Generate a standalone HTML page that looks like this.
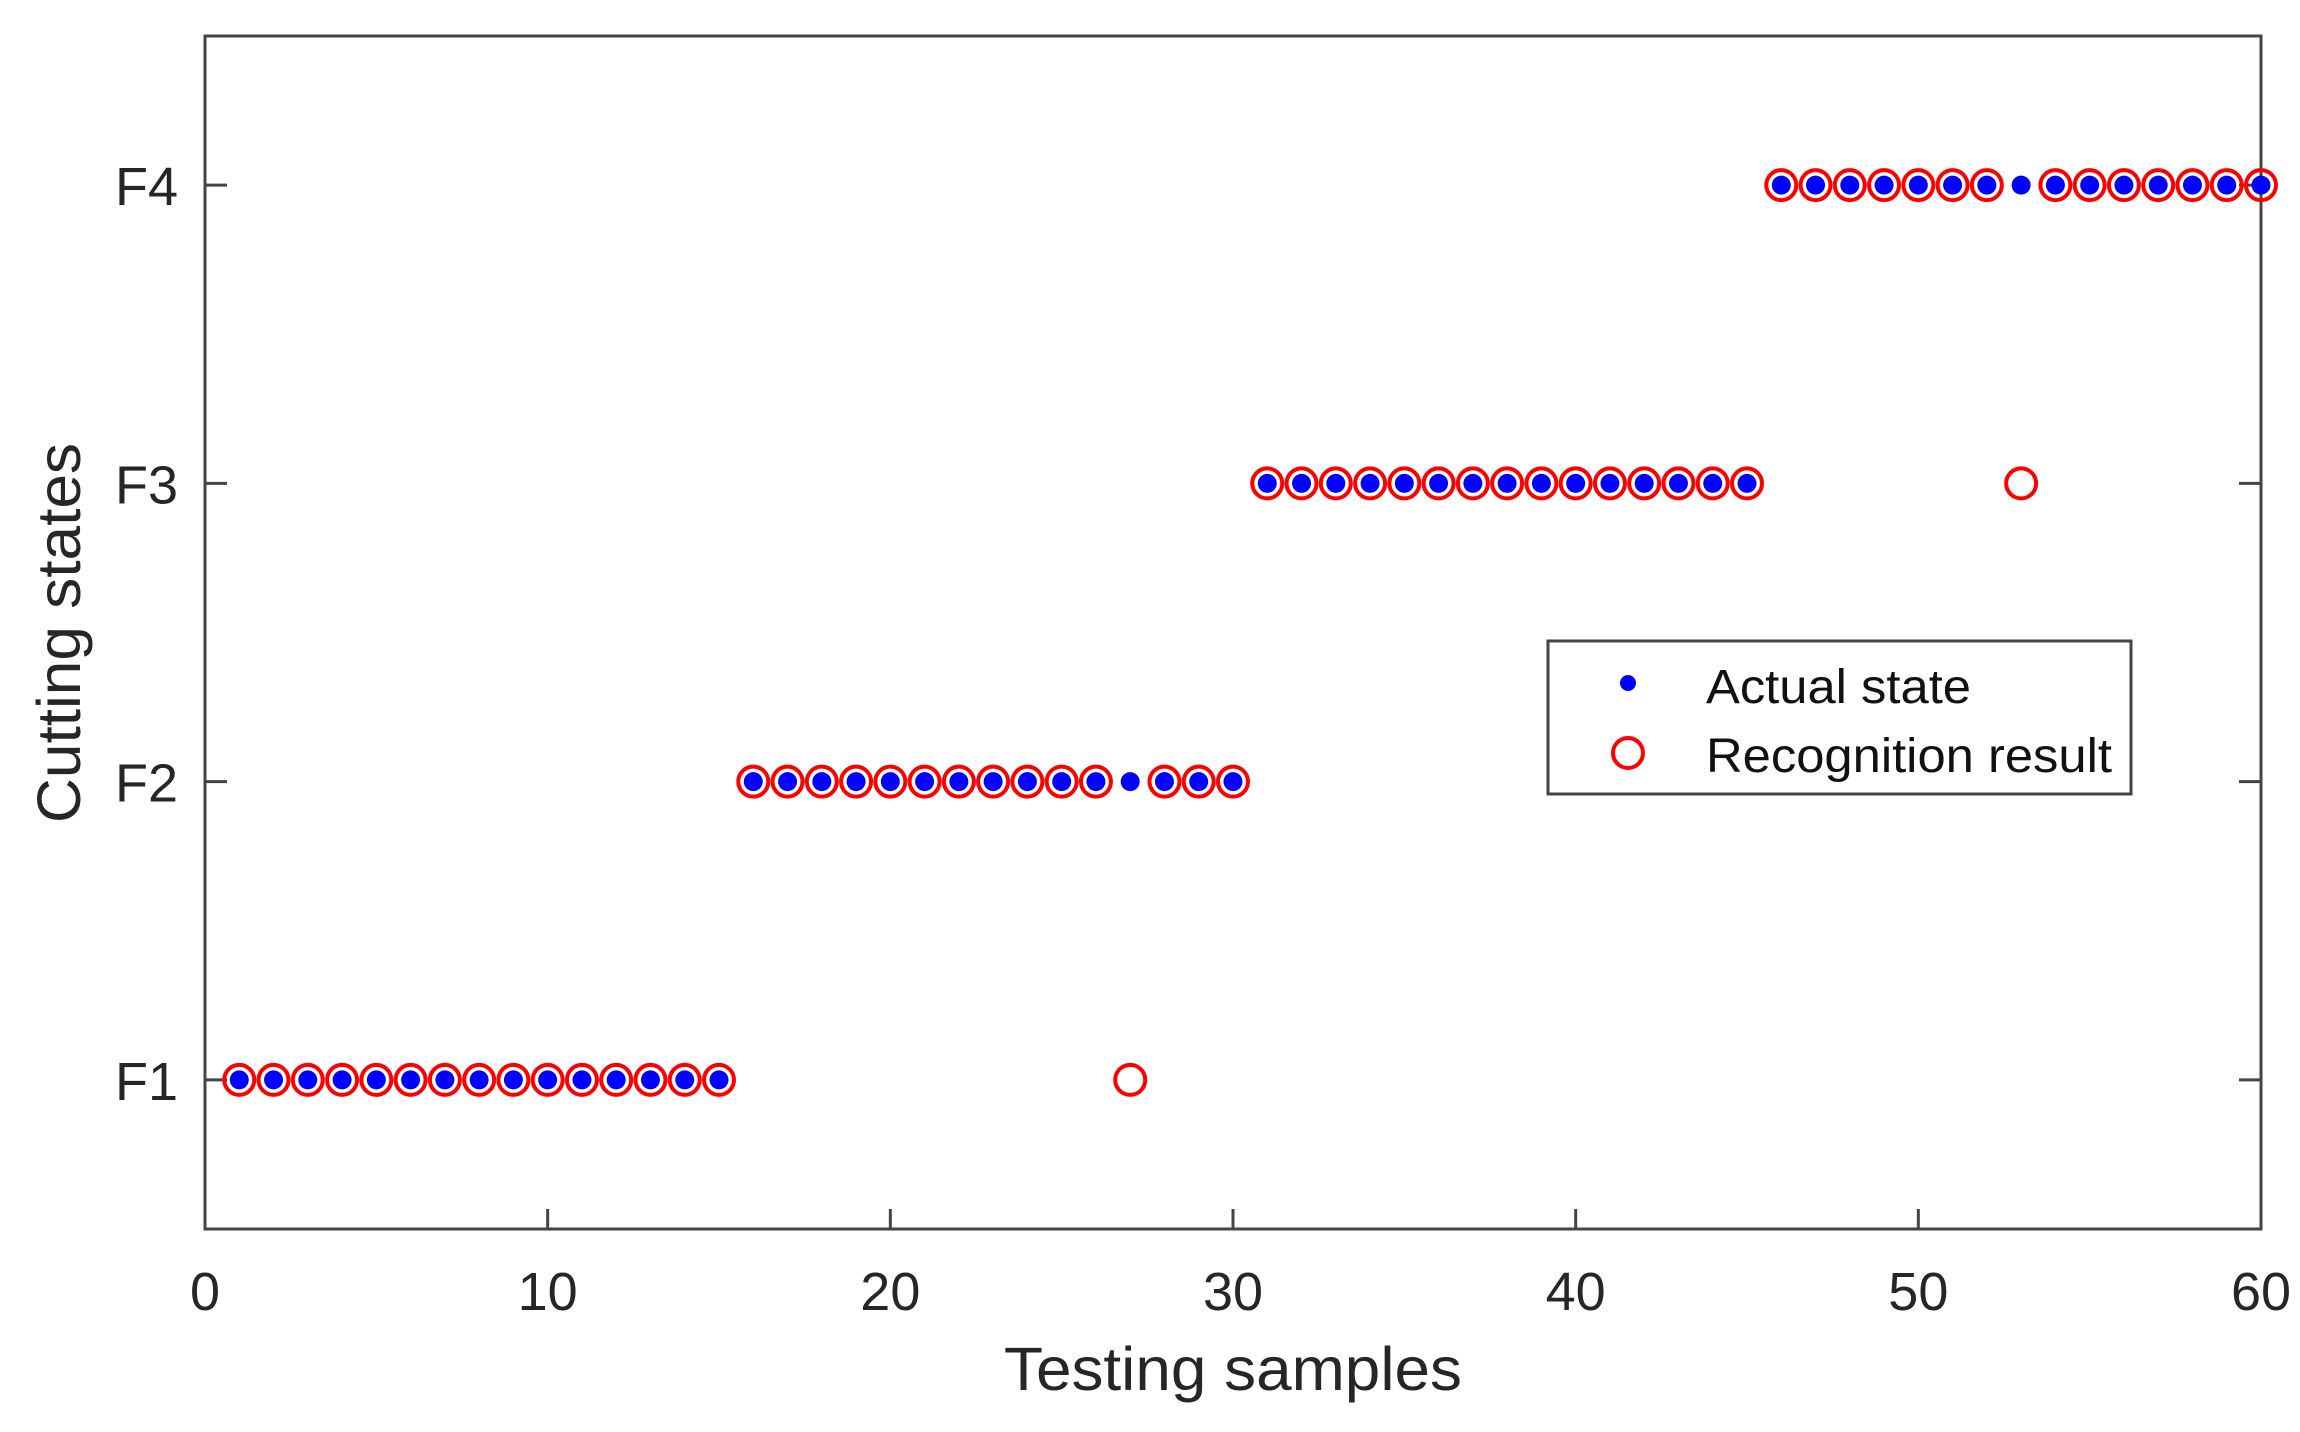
<!DOCTYPE html>
<html><head><meta charset="utf-8"><style>
html,body{margin:0;padding:0;background:#fff;}
svg{display:block;font-family:"Liberation Sans",Arial,sans-serif;}
</style></head><body>
<svg id="chart" width="2300" height="1432">
<g id="plot"></g>
</svg>
<script>
const samples = Array.from({length:60},(_,i)=>i+1);
const actualStates = [1,1,1,1,1,1,1,1,1,1,1,1,1,1,1, 2,2,2,2,2,2,2,2,2,2,2,2,2,2,2, 3,3,3,3,3,3,3,3,3,3,3,3,3,3,3, 4,4,4,4,4,4,4,4,4,4,4,4,4,4,4];
const recognizedStates = [1,1,1,1,1,1,1,1,1,1,1,1,1,1,1, 2,2,2,2,2,2,2,2,2,2,2,1,2,2,2, 3,3,3,3,3,3,3,3,3,3,3,3,3,3,3, 4,4,4,4,4,4,4,3,4,4,4,4,4,4,4];
const xTicks = [0,10,20,30,40,50,60];
const yTicks = [1,2,3,4];
const yTickLabels = ["F1","F2","F3","F4"];

const L=205,R=2261,T=36,B=1229;
const xs=v=>L+(v-0)/(60-0)*(R-L);
const ys=v=>B-(v-0.5)/(4-0)*(B-T);
const NS="http://www.w3.org/2000/svg";
const g=document.getElementById('plot');
function mk(tag,attrs,parent){const e=document.createElementNS(NS,tag);for(const k in attrs)e.setAttribute(k,attrs[k]);(parent||g).appendChild(e);return e;}

xTicks.forEach(t=>{
  const x=xs(t);
  mk('line',{x1:x,x2:x,y1:B,y2:B-20,stroke:'#444','stroke-width':3});
  const tx=mk('text',{x:x,y:1310,'font-size':54,'text-anchor':'middle',fill:'#262626'});
  tx.textContent=t;
  
  
});
yTicks.forEach((t,i)=>{
  const y=ys(t);
  mk('line',{x1:L,x2:L+22,y1:y,y2:y,stroke:'#444','stroke-width':3});
  mk('line',{x1:R,x2:R-22,y1:y,y2:y,stroke:'#444','stroke-width':3});
  const tx=mk('text',{x:178,y:y+20,'font-size':54,'text-anchor':'end',fill:'#262626'});
  tx.textContent=yTickLabels[i];
  
  
});
const fr=mk('rect',{x:L,y:T,width:R-L,height:B-T,fill:'none',stroke:'#444','stroke-width':3});



samples.forEach((s,i)=>{
  const c=mk('circle',{cx:xs(s),cy:ys(recognizedStates[i]),r:15,fill:'none',stroke:'#ff0000','stroke-width':4});
  
  
});
samples.forEach((s,i)=>{
  const d=mk('circle',{cx:xs(s),cy:ys(actualStates[i]),r:9.5,fill:'#0000ff'});
  
  
});

const xt=mk('text',{x:1233,y:1390,'font-size':61,'text-anchor':'middle',fill:'#262626',textLength:458,lengthAdjust:'spacingAndGlyphs'});
xt.textContent='Testing samples';


const yt=mk('text',{x:0,y:0,'font-size':61,'text-anchor':'middle',fill:'#262626',transform:'translate(80,633) rotate(-90)',textLength:380,lengthAdjust:'spacingAndGlyphs'});
yt.textContent='Cutting states';



const lg=mk('g',{});


mk('rect',{x:1548,y:641,width:583,height:153,fill:'#fff',stroke:'#444','stroke-width':3},lg);
mk('circle',{cx:1628,cy:683,r:8,fill:'#0000ff'},lg);
mk('circle',{cx:1628,cy:753,r:15,fill:'none',stroke:'#ff0000','stroke-width':4},lg);
const l1=mk('text',{x:1706,y:703,'font-size':48,fill:'#111',textLength:265,lengthAdjust:'spacingAndGlyphs'},lg);
l1.textContent='Actual state';


const l2=mk('text',{x:1706,y:772,'font-size':48,fill:'#111',textLength:406,lengthAdjust:'spacingAndGlyphs'},lg);
l2.textContent='Recognition result';


</script>
</body></html>
